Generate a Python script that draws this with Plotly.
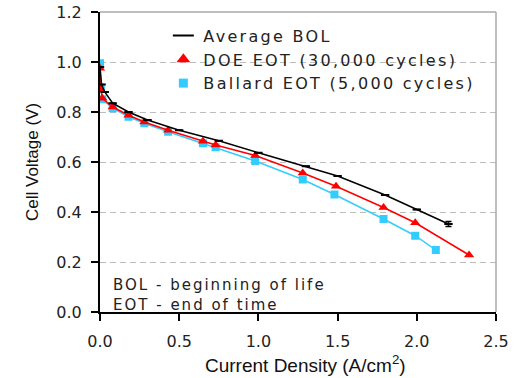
import plotly.graph_objects as go

# Data
bol_x = [0.0, 0.01, 0.03, 0.08, 0.18, 0.3, 0.5, 0.75, 1.0, 1.3, 1.5, 1.8, 2.0, 2.2]
bol_y = [0.98, 0.91, 0.88, 0.835, 0.80, 0.768, 0.727, 0.685, 0.637, 0.583, 0.544, 0.468, 0.41, 0.352]
bol_err = [0, 0, 0, 0, 0, 0, 0, 0, 0, 0, 0, 0, 0, 0.01]

doe_x = [0.0, 0.005, 0.015, 0.08, 0.18, 0.28, 0.43, 0.65, 0.73, 0.98, 1.28, 1.49, 1.79, 1.99, 2.33]
doe_y = [0.975, 0.89, 0.855, 0.82, 0.787, 0.76, 0.727, 0.683, 0.668, 0.626, 0.556, 0.503, 0.418, 0.357, 0.228]

ballard_x = [0.0, 0.005, 0.015, 0.08, 0.18, 0.28, 0.43, 0.65, 0.73, 0.98, 1.28, 1.48, 1.79, 1.99, 2.12]
ballard_y = [0.995, 0.895, 0.851, 0.815, 0.781, 0.755, 0.721, 0.675, 0.659, 0.604, 0.53, 0.47, 0.372, 0.305, 0.248]

names = ["Average BOL", "DOE EOT (30,000 cycles)", "Ballard EOT (5,000 cycles)"]
x_ticks = [0.0, 0.5, 1.0, 1.5, 2.0, 2.5]
y_ticks = [0.0, 0.2, 0.4, 0.6, 0.8, 1.0, 1.2]

BLACK = "#000000"
RED = "#ff0000"
BLUE = "#33ccff"

fig = go.Figure()

fig.add_trace(go.Scatter(
    x=ballard_x, y=ballard_y, mode="lines+markers", showlegend=False,
    line=dict(color=BLUE, width=1.5),
    marker=dict(symbol="square", size=8, color=BLUE),
))
fig.add_trace(go.Scatter(
    x=doe_x, y=doe_y, mode="lines+markers", showlegend=False,
    line=dict(color=RED, width=1.5),
    marker=dict(symbol="triangle-up", size=9, color=RED),
))
fig.add_trace(go.Scatter(
    x=bol_x, y=bol_y, mode="lines+markers", showlegend=False,
    line=dict(color=BLACK, width=1.5),
    marker=dict(symbol="line-ew", size=6, line=dict(color=BLACK, width=2)),
    error_y=dict(type="data", array=bol_err, visible=True, color=BLACK, thickness=1.5, width=3),
))

# legend entries (markers only, as in the reference)
fig.add_trace(go.Scatter(
    x=[None], y=[None], mode="markers", name=names[0],
    marker=dict(symbol="line-ew", size=15, line=dict(color=BLACK, width=2)),
))
fig.add_trace(go.Scatter(
    x=[None], y=[None], mode="markers", name=names[1],
    marker=dict(symbol="triangle-up", size=12, color=RED),
))
fig.add_trace(go.Scatter(
    x=[None], y=[None], mode="markers", name=names[2],
    marker=dict(symbol="square", size=9, color=BLUE),
))

fig.update_layout(
    width=527, height=378,
    margin=dict(l=100, r=31, t=12, b=66),
    paper_bgcolor="white", plot_bgcolor="white",
    font=dict(family="DejaVu Sans", size=16, color="#222222"),
    legend=dict(
        x=0.16, y=0.978, xanchor="left", yanchor="top",
        bgcolor="rgba(0,0,0,0)", borderwidth=0,
        font=dict(family="DejaVu Sans", size=16, color="#222222"),
        tracegroupgap=0, itemsizing="trace",
    ),
    xaxis=dict(
        range=[0, 2.5], tickvals=x_ticks, tickformat=".1f",
        showgrid=False, zeroline=False, automargin=False,
        showline=True, linecolor="black", linewidth=2,
        ticks="outside", ticklen=7, tickwidth=1.5, tickcolor="black",
        ticklabelstandoff=7,
        tickfont=dict(family="DejaVu Sans", size=16, color="#222222"),
    ),
    yaxis=dict(
        range=[0, 1.2], tickvals=y_ticks, tickformat=".1f",
        showgrid=True, gridcolor="#bdbdbd", griddash="6px,4px", gridwidth=1,
        zeroline=False, automargin=False,
        showline=True, linecolor="black", linewidth=2,
        ticks="outside", ticklen=7, tickwidth=1.5, tickcolor="black",
        ticklabelstandoff=6,
        tickfont=dict(family="DejaVu Sans", size=16, color="#222222"),
    ),
    shapes=[
        dict(type="line", xref="paper", yref="paper", x0=0, x1=1, y0=1, y1=1,
             line=dict(color="#a8a8a8", width=1.5)),
        dict(type="line", xref="paper", yref="paper", x0=1, x1=1, y0=0, y1=1,
             line=dict(color="#a8a8a8", width=1.5)),
    ],
    annotations=[
        dict(text="BOL - beginning of life<br>EOT - end of time",
             xref="paper", yref="paper", x=0.028, y=0.0, xanchor="left", yanchor="bottom",
             align="left", showarrow=False, yshift=-4,
             font=dict(family="DejaVu Sans", size=15, color="#222222")),
        # axis titles
        dict(text="Current Density (A/cm<sup>2</sup>)",
             xref="paper", yref="paper", x=0.52, y=0, yshift=-52,
             xanchor="center", yanchor="middle", showarrow=False,
             font=dict(family="Liberation Sans", size=19, color="#111111")),
        dict(text="Cell Voltage (V)", textangle=-90,
             xref="paper", yref="paper", x=0, xshift=-68, y=0.5,
             xanchor="center", yanchor="middle", showarrow=False,
             font=dict(family="Liberation Sans", size=17, color="#111111")),
    ],
)

post = """
var gd = document.getElementById('{plot_id}');
gd.querySelectorAll('.legend, .legend *').forEach(function(e){ e.removeAttribute('clip-path'); });
gd.querySelectorAll('.legendtext').forEach(function(e){ e.style.letterSpacing = '2.3px'; });
gd.querySelectorAll('.annotation-text').forEach(function(e){
  if (e.textContent.indexOf('BOL -') === 0) { e.style.letterSpacing = '2px'; }
});
"""

fig.write_html("out.html", post_script=post)
